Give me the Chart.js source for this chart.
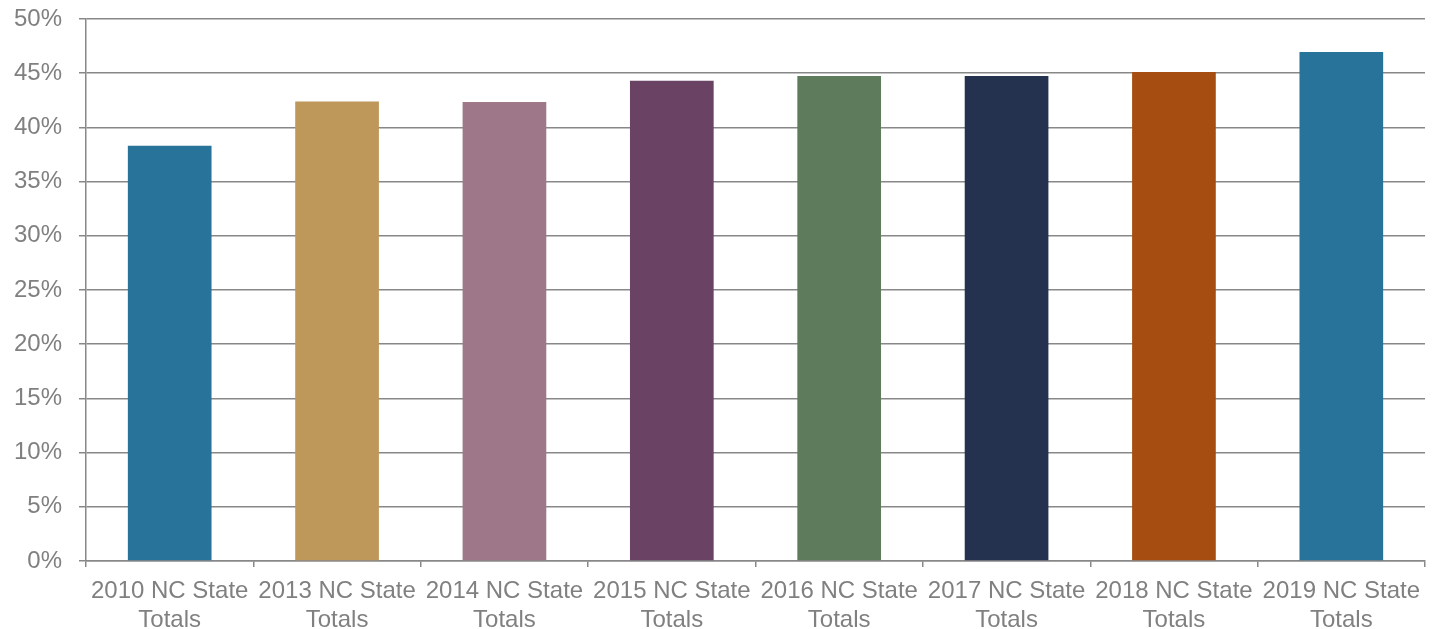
<!DOCTYPE html>
<html>
<head>
<meta charset="utf-8">
<script src="https://cdn.jsdelivr.net/npm/chart.js@4/dist/chart.umd.min.js"></script>
<style>
  html, body { margin: 0; padding: 0; background: #fff; }
  #wrap { width: 1436px; height: 629px; }
</style>
</head>
<body>
<div id="wrap"><canvas id="grafico"></canvas></div>
<script>
const categorias = [
    ['2010 NC State', 'Totals'], ['2013 NC State', 'Totals'], ['2014 NC State', 'Totals'],
    ['2015 NC State', 'Totals'], ['2016 NC State', 'Totals'], ['2017 NC State', 'Totals'],
    ['2018 NC State', 'Totals'], ['2019 NC State', 'Totals']
];
const valores = [38.3, 42.4, 42.35, 44.3, 44.75, 44.75, 45.1, 46.95];
const colores = ['#287399', '#BD985A', '#9E7789', '#6A4264', '#5E7B5C', '#24324F', '#A64D11', '#287399'];
const ticksY = [0, 5, 10, 15, 20, 25, 30, 35, 40, 45, 50];

const gris = '#888888';
const texto = '#808080';

new Chart('grafico', {
    type: 'bar',
    data: {
        labels: categorias,
        datasets: [{
            data: valores,
            backgroundColor: colores,
            borderWidth: 0,
            barPercentage: 0.5,
            categoryPercentage: 1
        }]
    },
    options: {
        responsive: true,
        maintainAspectRatio: false,
        animation: false,
        layout: { padding: { top: 19, right: 11, left: 0, bottom: 0 } },
        plugins: { legend: { display: false }, tooltip: { enabled: false } },
        scales: {
            x: {
                grid: { offset: true, drawOnChartArea: false, drawTicks: true, tickLength: 6, color: gris, lineWidth: 1.5 },
                border: { color: gris, width: 1.5 },
                ticks: { color: texto, font: { family: 'Liberation Sans', size: 24 }, maxRotation: 0, autoSkip: false, padding: 10 },
                afterFit: (eje) => {
                    eje.height = 68;
                    eje.paddingLeft = 0; eje.paddingRight = 0; eje.paddingTop = 0; eje.paddingBottom = 0;
                }
            },
            y: {
                min: 0,
                max: 50,
                afterBuildTicks: (eje) => { eje.ticks = ticksY.map(v => ({ value: v })); },
                grid: { color: gris, lineWidth: 1.5, tickLength: 7 },
                border: { color: gris, width: 1.5 },
                ticks: {
                    color: texto,
                    font: { family: 'Liberation Sans', size: 24 },
                    padding: 17,
                    callback: (v) => v + '%'
                },
                afterFit: (eje) => {
                    eje.width = 86;
                    eje.paddingTop = 0; eje.paddingBottom = 0;
                }
            }
        }
    }
});
</script>
</body>
</html>
